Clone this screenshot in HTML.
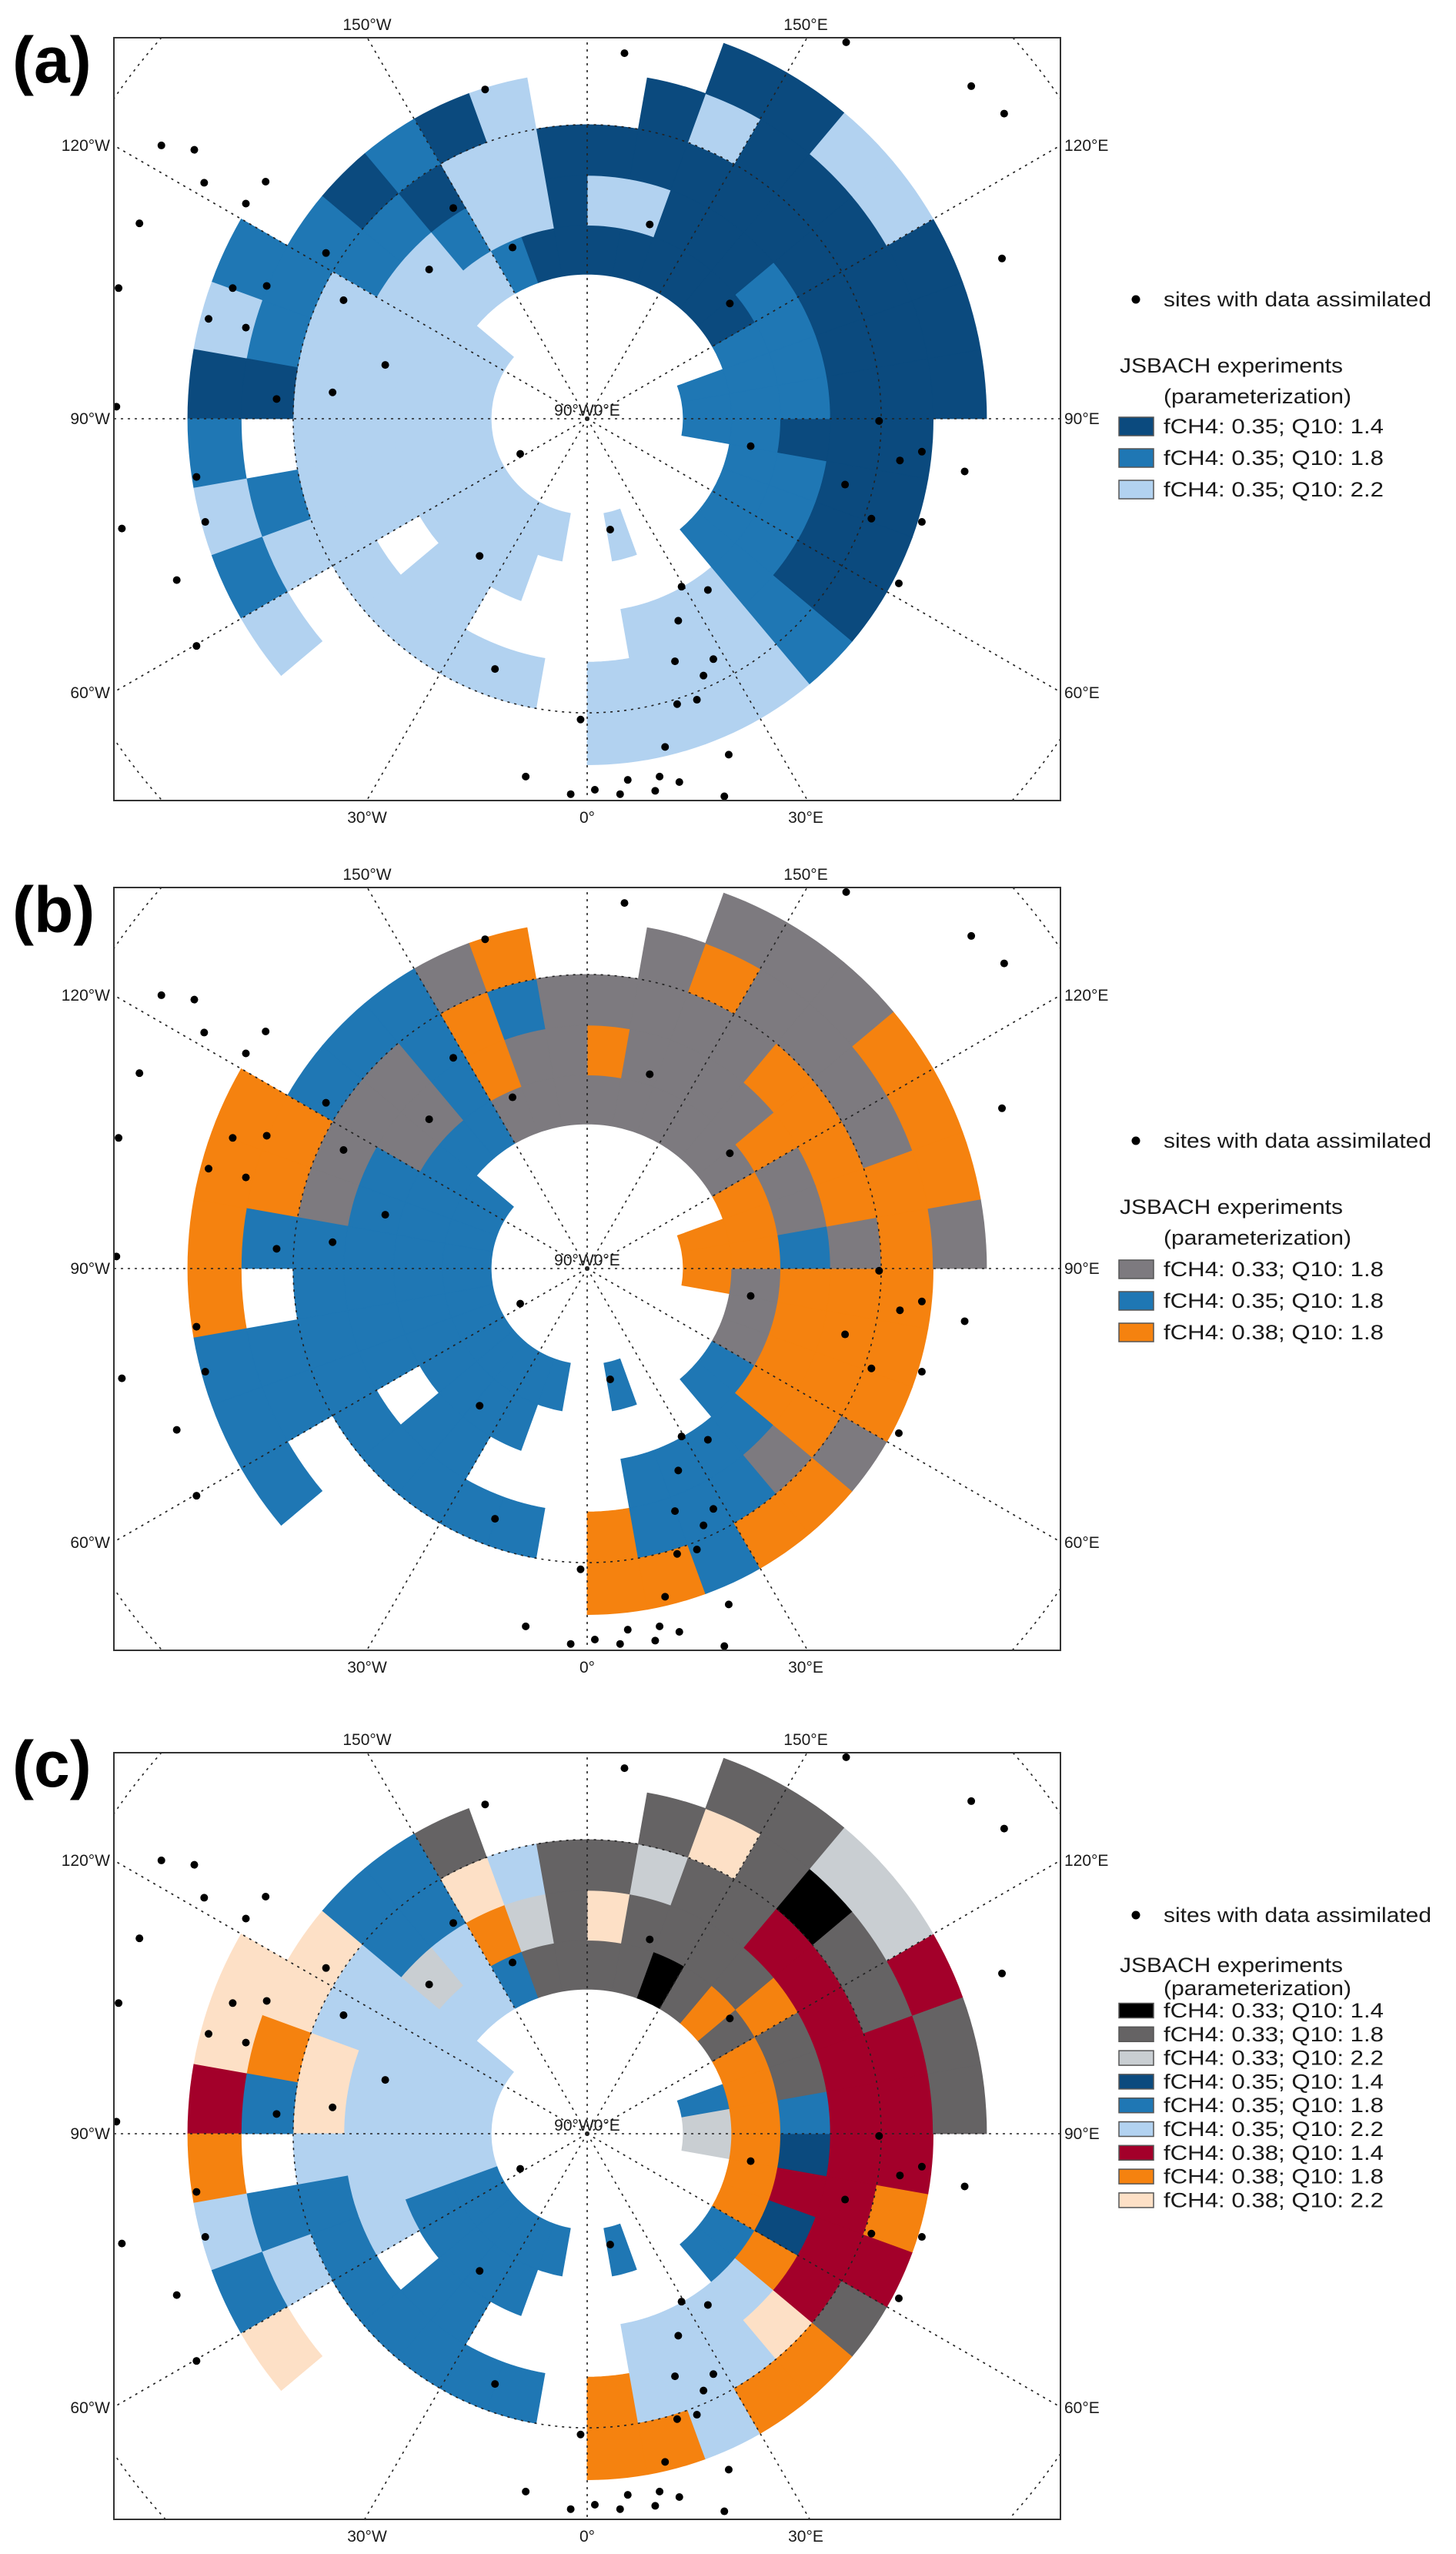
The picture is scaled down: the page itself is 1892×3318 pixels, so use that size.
<!DOCTYPE html>
<html><head><meta charset="utf-8"><style>
html,body{margin:0;padding:0;background:#fff;width:1892px;height:3318px;overflow:hidden;}
svg{display:block;font-family:"Liberation Sans",sans-serif;}
</style></head><body>
<svg id="fig" xmlns="http://www.w3.org/2000/svg" width="1892" height="3318" viewBox="0 0 1892 3318"></svg>
<script>
// ---- data ----
// latitude band edges (deg N), band1 = 80-75 ... band6 = 55-50
const bandLats = [80, 75, 70, 65, 60, 55, 50];
// lon bins of 10 deg, index i -> [10i, 10i+10] deg east
// each row: codes for band1..band6 ('.' = no wetland cell)
const cellsA = [
"...LL.","L.LLL.","..LLL.","..LLL.",".MMMM.",".MMDD.",".MMDD.",".MMDD.","MMDDD.","MMMDDD",
"MMMDDD",".MMDDD",".DMDDL",".DDDDL",".DDDDD",".DDDLD",".DLDD.",".DLD..",".DDD..",".DLLL.",
".MLLD.",".LMDM.",".LLMD.","LLLMM.","LLLLMM","LLLLML","LLLLDD","LLLL.M","LLLLML","LLLLLM",
"LL.L.L","LLLL..","LLLL..","LL.L..","L..L..","......"];
const cellsB = [
"...OO.","B.BBO.","..BBB.","..BBO.",".BBGO.",".BOOG.",".GOOO.",".GOOO.","OGOOO.","OOBGOG",
"OOGOOO",".OGOGO",".GOOGO",".GGOGG",".GGGGG",".GGGOG",".GGGG.",".GOG..",".GGG..",".GGBO.",
".GOOG.",".BBBB.",".BGGB.","BBGGB.","BBBGOO","BBBGOO","BBBBBO","BBBB.O","BBBBBB","BBBBBB",
"BB.B.B","BBBB..","BBBB..","BB.B..","B..B..","......"];
const cellsC = [
"...OO.","M.LLO.","..LLL.","..LLO.",".MLPO.",".MORg.",".ODRR.",".ORRO.","sODRR.","sOMRRg",
"MOgRRg",".OgRgR",".gORgs",".OgRKs",".ggggg",".KggPg",".ggsg.",".gPg..",".ggg..",".gsL..",
".MOPg.",".LLMM.",".LsMM.","LLLLP.","LLLLPP","LLLPOP","LLLPMR","LLLL.O","LLLMML","MMLMLM",
"MM.M.P","MMMM..","MMMM..","MM.M..","M..M..","......"];
// site positions in polar-stereographic map units
const siteX = [0.034,-0.093,0.236,0.350,0.380,-0.358,-0.349,-0.293,-0.311,-0.122,0.057,-0.068,-0.238,-0.144,-0.323,-0.292,-0.345,-0.311,-0.222,0.378,0.130,-0.184,-0.232,-0.283,0.266,-0.061,0.149,0.285,0.305,0.344,-0.356,0.235,-0.348,0.259,0.305,0.021,-0.098,-0.374,0.284,0.086,0.110,-0.356,0.083,0.080,0.115,0.106,-0.084,0.082,0.100,-0.006,0.071,0.129,-0.056,-0.015,0.007,0.037,0.066,0.084,0.062,0.030,0.125,-0.429,-0.427,-0.424,-0.408,-0.388];
const siteY = [-0.333,-0.300,-0.343,-0.303,-0.278,-0.245,-0.215,-0.216,-0.196,-0.192,-0.177,-0.156,-0.151,-0.136,-0.119,-0.121,-0.091,-0.083,-0.108,-0.146,-0.105,-0.049,-0.024,-0.018,0.002,0.032,0.025,0.038,0.030,0.048,0.053,0.060,0.094,0.091,0.094,0.101,0.125,0.147,0.150,0.153,0.156,0.207,0.184,0.221,0.219,0.234,0.228,0.260,0.256,0.274,0.299,0.306,0.326,0.342,0.338,0.329,0.326,0.331,0.339,0.342,0.344,-0.011,-0.119,0.100,-0.178,-0.249];
const colors = {D:"#0b4a7e",M:"#1f77b4",B:"#1f77b4",L:"#b2d2f0",G:"#7d7a7f",O:"#f5820f",K:"#000000",g:"#656364",s:"#c9ced2",R:"#a3002a",P:"#fde0c6"};
const legendA = [["D","fCH4: 0.35; Q10: 1.4"],["M","fCH4: 0.35; Q10: 1.8"],["L","fCH4: 0.35; Q10: 2.2"]];
const legendB = [["G","fCH4: 0.33; Q10: 1.8"],["B","fCH4: 0.35; Q10: 1.8"],["O","fCH4: 0.38; Q10: 1.8"]];
const legendC = [["K","fCH4: 0.33; Q10: 1.4"],["g","fCH4: 0.33; Q10: 1.8"],["s","fCH4: 0.33; Q10: 2.2"],["D","fCH4: 0.35; Q10: 1.4"],["M","fCH4: 0.35; Q10: 1.8"],["L","fCH4: 0.35; Q10: 2.2"],["R","fCH4: 0.38; Q10: 1.4"],["O","fCH4: 0.38; Q10: 1.8"],["P","fCH4: 0.38; Q10: 2.2"]];

// ---- drawing ----
const NS="http://www.w3.org/2000/svg";
const svg=document.getElementById('fig');
const K=1426, BX0=148, BX1=1378, CX=763;
function el(tag,attrs,parent){const e=document.createElementNS(NS,tag);for(const k in attrs)e.setAttribute(k,attrs[k]);(parent||svg).appendChild(e);return e;}
function rad(lat){return K*Math.tan((90-lat)/2*Math.PI/180);}
function pt(cy,r,lon){const a=lon*Math.PI/180;return [CX+r*Math.sin(a),cy+r*Math.cos(a)];}
function sector(cy,r0,r1,l0,l1){
  const p=[];const n=6;
  for(let k=0;k<=n;k++)p.push(pt(cy,r1,l0+(l1-l0)*k/n));
  for(let k=n;k>=0;k--)p.push(pt(cy,r0,l0+(l1-l0)*k/n));
  return p.map(q=>q[0].toFixed(1)+","+q[1].toFixed(1)).join(" ");
}
function txt(x,y,s,size,parent,anchor,weight,len){
  const t=el('text',{x:x,y:y,'font-size':size,fill:'#1a1a1a'},parent);
  if(anchor)t.setAttribute('text-anchor',anchor);
  if(weight)t.setAttribute('font-weight',weight);
  if(len){t.setAttribute('textLength',len);t.setAttribute('lengthAdjust','spacingAndGlyphs');}
  t.textContent=s;return t;
}

const panels=[
 {id:'a',top:49,bot:1040,cells:cellsA,legend:legendA,lg:{dot:389,js:475,par:515,e0:554,step:41,sw:24},lab:107},
 {id:'b',top:1153,bot:2144,cells:cellsB,legend:legendB,lg:{dot:1482,js:1568,par:1608,e0:1649,step:41,sw:24},lab:1211},
 {id:'c',top:2277,bot:3273,cells:cellsC,legend:legendC,lg:{dot:2488,js:2553,par:2583,e0:2612,step:30.8,sw:19},lab:2321}
];

panels.forEach(P=>{
  const cy=P.top+495;
  const g=el('g',{});
  
  
  const clip=el('clipPath',{id:'clip'+P.id},g);
  el('rect',{x:BX0,y:P.top,width:BX1-BX0,height:P.bot-P.top},clip);
  const map=el('g',{'clip-path':'url(#clip'+P.id+')'},g);
  
  
  P.cells.forEach((row,i)=>{
    for(let b=0;b<6;b++){
      const c=row[b];if(c==='.')continue;
      const poly=el('polygon',{points:sector(cy,rad(bandLats[b]),rad(bandLats[b+1]),i*10,i*10+10),fill:colors[c],stroke:colors[c],'stroke-width':0.8},map);
      
      
    }
  });
  for(let lon=0;lon<360;lon+=30){
    const e=pt(cy,1200,lon);
    const ln=el('line',{x1:CX,y1:cy,x2:e[0],y2:e[1],stroke:'#222','stroke-width':1.6,'stroke-dasharray':'3,6'},map);
    
    
  }
  [60,35].forEach(lat=>{
    const c=el('circle',{cx:CX,cy:cy,r:rad(lat),fill:'none',stroke:'#222','stroke-width':1.6,'stroke-dasharray':'3,6'},map);
    
    
  });
  for(let k=0;k<siteX.length;k++){
    const d=el('circle',{cx:CX+siteX[k]*K,cy:cy+siteY[k]*K,r:5,fill:'#000'},map);
    
    
  }
  const box=el('rect',{x:BX0,y:P.top,width:BX1-BX0,height:P.bot-P.top,fill:'none',stroke:'#333','stroke-width':2},g);
  
  
  const ax=el('g',{},g);
  
  
  txt(477,P.top-10,'150°W',21,ax,'middle');
  txt(1047,P.top-10,'150°E',21,ax,'middle');
  txt(477,P.bot+29,'30°W',21,ax,'middle');
  txt(763,P.bot+29,'0°',21,ax,'middle');
  txt(1047,P.bot+29,'30°E',21,ax,'middle');
  txt(143,cy-348,'120°W',21,ax,'end');
  txt(143,cy+7,'90°W',21,ax,'end');
  txt(143,cy+363,'60°W',21,ax,'end');
  txt(1383,cy-348,'120°E',21,ax);
  txt(1383,cy+7,'90°E',21,ax);
  txt(1383,cy+363,'60°E',21,ax);
  txt(CX,cy-4,'90°W0°E',21,ax,'middle');
  const pl=txt(16,P.lab,'('+P.id+')',84,g,null,'bold');
  pl.setAttribute('fill','#000');
  
  
  const L=P.lg;
  const lg=el('g',{},g);
  
  
  const ld=el('circle',{cx:1476,cy:L.dot,r:5.5,fill:'#000'},lg);
  
  
  txt(1512,L.dot+9,'sites with data assimilated',27,lg,null,null,348);
  txt(1455,L.js+9,'JSBACH experiments',27,lg,null,null,290);
  txt(1512,L.par+9,'(parameterization)',27,lg,null,null,244);
  P.legend.forEach((en,k)=>{
    const y=L.e0+k*L.step;
    const entry=el('g',{},lg);
    
    
    el('rect',{x:1454,y:y-L.sw/2,width:45,height:L.sw,fill:colors[en[0]],stroke:'#555','stroke-width':1.5},entry);
    txt(1512,y+9,en[1],27,entry,null,null,286);
  });
});
</script>
</body></html>
